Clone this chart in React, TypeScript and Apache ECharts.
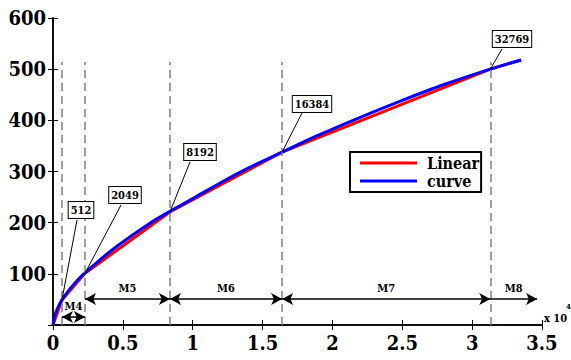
import React, { useEffect, useRef } from "react";
import * as echarts from "echarts";

// Data (x in units of 1e4)
const knotLabels = ["512", "2049", "8192", "16384", "32769"];
const knotX = [0.064, 0.229, 0.837, 1.64, 3.13];
const knotY = [49, 101, 221, 338, 500];

const linearX = [0, 0.064, 0.229, 0.837, 1.64, 3.13, 3.35];
const linearY = [0, 49, 101, 221, 338, 500, 518];

const curveX = [0, 0.015, 0.035, 0.064, 0.12, 0.18, 0.229, 0.33, 0.43, 0.53, 0.63, 0.73, 0.837, 1.0, 1.2, 1.4, 1.64, 1.9, 2.2, 2.5, 2.8, 3.13, 3.35];
const curveY = [0, 20, 34, 49, 70, 89, 102, 126, 148, 168, 187, 205, 222, 247, 278, 307, 338, 371, 406, 439, 470, 500, 518];

const segLabels = ["M4", "M5", "M6", "M7", "M8"];
const segStart = [0.064, 0.229, 0.837, 1.64, 3.13];
const segEnd = [0.229, 0.837, 1.64, 3.13, 3.465];
const segLevel = [15.6, 50.8, 50.8, 50.8, 50.8];

const dashTop = 514;
const xTicks = [0, 0.5, 1, 1.5, 2, 2.5, 3, 3.5];
const yTicks = [0, 100, 200, 300, 400, 500, 600];

// Layout of callout boxes (pixels)
const calloutBox = [
  [81, 210],
  [125, 195],
  [200, 152],
  [312, 104],
  [512, 39],
];
const calloutLeaderEnd = [
  [77, 220],
  [121, 205],
  [190, 162],
  [302, 113],
  [502, 49],
];

const FONT = "DejaVu Serif Condensed, DejaVu Serif, serif";

export default function App() {
  const ref = useRef<HTMLDivElement>(null);
  useEffect(() => {
    document.body.style.margin = "0";
    const chart = echarts.init(ref.current!, null, { renderer: "svg" });
    const axisLine = { show: true, lineStyle: { color: "#000", width: 1.5 } };
    const tick = { show: true, inside: true, length: 5, lineStyle: { color: "#000", width: 1 } };
    const option: any = {
      animation: false,
      backgroundColor: "#fff",
      textStyle: { fontFamily: FONT },
      grid: { left: 53, right: 29, top: 18, bottom: 35 },
      legend: {
        data: ["Linear", "curve"],
        orient: "vertical",
        left: 350,
        top: 152,
        icon: "rect",
        itemWidth: 57,
        itemHeight: 3,
        itemGap: 0,
        padding: [2, 2, 2, 10],
        borderColor: "#000",
        borderWidth: 2,
        backgroundColor: "#fff",
        textStyle: {
          fontFamily: FONT,
          fontWeight: "bold",
          fontSize: 16,
          color: "#000",
          lineHeight: 18,
          padding: [0, 0, 0, 5],
        },
      },
      xAxis: [
        {
          type: "value",
          min: xTicks[0],
          max: xTicks[xTicks.length - 1],
          interval: 0.5,
          axisLine,
          axisTick: tick,
          splitLine: { show: false },
          axisLabel: {
            margin: 8,
            fontFamily: FONT,
            fontWeight: "bold",
            fontSize: 20,
            color: "#000",
            formatter: (v: number) => String(v),
          },
        },
        {
          type: "value",
          position: "top",
          min: xTicks[0],
          max: xTicks[xTicks.length - 1],
          interval: 0.5,
          axisLine,
          axisTick: tick,
          splitLine: { show: false },
          axisLabel: { show: false },
        },
      ],
      yAxis: [
        {
          type: "value",
          min: yTicks[0],
          max: yTicks[yTicks.length - 1],
          interval: 100,
          axisLine,
          axisTick: tick,
          splitLine: { show: false },
          axisLabel: {
            margin: 7,
            fontFamily: FONT,
            fontWeight: "bold",
            fontSize: 20,
            color: "#000",
            formatter: (v: number) => (v === 0 ? "" : String(v)),
          },
        },
        {
          type: "value",
          position: "right",
          min: yTicks[0],
          max: yTicks[yTicks.length - 1],
          interval: 100,
          axisLine,
          axisTick: tick,
          splitLine: { show: false },
          axisLabel: { show: false },
        },
      ],
      graphic: [
        {
          type: "text",
          left: 544,
          top: 313,
          style: {
            text: "x 10",
            fontFamily: FONT,
            fontWeight: "bold",
            fontSize: 11,
            fill: "#000",
          },
        },
        {
          type: "text",
          left: 566,
          top: 302,
          style: {
            text: "4",
            fontFamily: FONT,
            fontWeight: "bold",
            fontSize: 8,
            fill: "#000",
          },
        },
      ],
      series: [
        {
          name: "annot",
          type: "line",
          data: [],
          silent: true,
          markLine: {
            silent: true,
            symbol: ["none", "none"],
            label: { show: false },
            lineStyle: { color: "#808080", width: 1.5, type: [8, 5] },
            data: knotX.map((x) => [
              { coord: [x, 0] },
              { coord: [x, dashTop] },
            ]),
          },
        },
        {
          name: "arrows",
          type: "line",
          data: [],
          silent: true,
          markLine: {
            silent: true,
            symbolSize: [9, 11],
            lineStyle: { color: "#000", width: 1.5, type: "solid" },
            data: segLabels.map((lab, i) => [
              {
                coord: [segStart[i], segLevel[i]],
                symbol: i === segLabels.length - 1 ? "none" : "arrow",
                label: {
                  show: true,
                  position: "insideMiddleTop",
                  distance: 5,
                  formatter: lab,
                  fontFamily: FONT,
                  fontWeight: "bold",
                  fontSize: 11,
                  color: "#000",
                },
              },
              { coord: [segEnd[i], segLevel[i]], symbol: "arrow" },
            ]),
          },
        },
        {
          name: "callouts",
          type: "line",
          data: [],
          silent: true,
          markLine: {
            silent: true,
            symbol: ["none", "none"],
            label: { show: false },
            lineStyle: { color: "#000", width: 1, type: "solid" },
            data: knotX.map((x, i) => [
              { coord: [x, knotY[i]] },
              { x: calloutLeaderEnd[i][0], y: calloutLeaderEnd[i][1] },
            ]),
          },
          markPoint: {
            silent: true,
            symbol: "rect",
            symbolSize: 1,
            itemStyle: { color: "rgba(0,0,0,0)" },
            data: knotLabels.map((lab, i) => ({
              x: calloutBox[i][0],
              y: calloutBox[i][1],
              value: lab,
              label: {
                show: true,
                position: "inside",
                formatter: lab,
                fontFamily: FONT,
                fontWeight: "bold",
                fontSize: 11,
                color: "#000",
                backgroundColor: "#fff",
                borderColor: "#000",
                borderWidth: 1,
                padding: [3, 2, 2, 2],
              },
            })),
          },
        },
        {
          name: "Linear",
          type: "line",
          z: 3,
          showSymbol: false,
          symbol: "none",
          color: "#ff0000",
          lineStyle: { color: "#ff0000", width: 3 },
          data: linearX.map((x, i) => [x, linearY[i]]),
        },
        {
          name: "curve",
          type: "line",
          z: 4,
          showSymbol: false,
          symbol: "none",
          smooth: 0.3,
          color: "#0000ff",
          lineStyle: { color: "#0000ff", width: 3 },
          data: curveX.map((x, i) => [x, curveY[i]]),
        },
      ],
    };
    chart.setOption(option);
    return () => chart.dispose();
  }, []);
  return (
    <div
      ref={ref}
      style={{ position: "fixed", left: 0, top: 0, width: 571, height: 360 }}
    />
  );
}
